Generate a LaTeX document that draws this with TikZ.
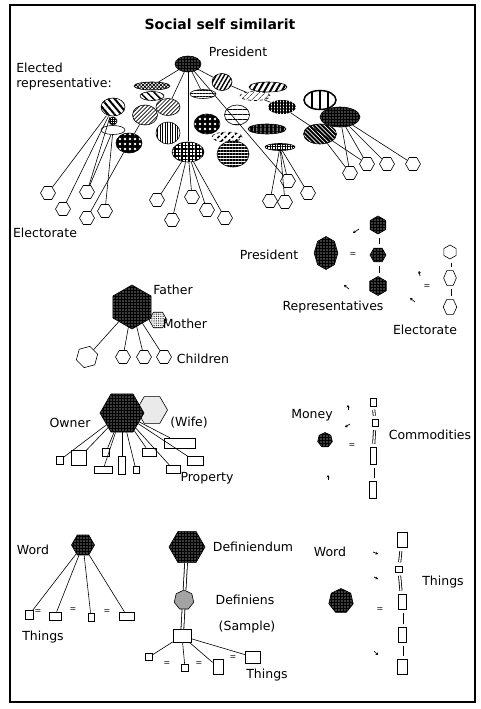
\documentclass[tikz,border=0pt]{standalone}
\usepackage{fontspec}
\setmainfont{DejaVu Sans}
\usetikzlibrary{shapes.geometric,patterns.meta,arrows.meta}

\tikzset{
  lbl/.style={font=\fontsize{12.5}{15}\selectfont, inner sep=0pt},
  eqsign/.style={font=\fontsize{8}{8}\selectfont, inner sep=0pt},
  rep/.style={draw, ellipse, inner sep=0pt, preaction={fill=white}},
  voter/.style={draw, regular polygon, regular polygon sides=6, minimum size=15, inner sep=0pt, fill=white},
  hexa/.style={draw, regular polygon, regular polygon sides=6, inner sep=0pt},
  thing/.style={draw, rectangle, inner sep=0pt, fill=white},
  blackdots/.style={preaction={fill=black}, pattern={Dots[distance=3pt,radius=0.55pt]}, pattern color=white},
  bigdots/.style={preaction={fill=black}, pattern={Dots[distance=5pt,radius=1.4pt]}, pattern color=white},
  lightdots/.style={preaction={fill=white}, pattern={Dots[distance=2pt,radius=0.45pt]}},
  eqlink/.style={double, double distance=1.4pt, line width=0.8pt, shorten <=3.5pt, shorten >=3.5pt},
  deflink/.style={double, double distance=2pt, line width=0.8pt},
  tinyarrow/.style={-{Stealth[length=2.5pt,width=3pt]}, line width=0.7pt},
}

\begin{document}
\begin{tikzpicture}[x=1pt,y=-1pt,line width=0.6pt]
\useasboundingbox (0,0) rectangle (480,709);
\draw[line width=1.3pt] (10,5) rectangle (475,702);

% president and elected representatives
\node[lbl, font=\bfseries\fontsize{14}{16}\selectfont] (title) at (220,24) {Social self similarit};
\node[lbl] (presl) at (238,52) {President};
\node[lbl, align=left, anchor=north west] (elect) at (16,63) {Elected\\representative:};
\node[lbl] (electl) at (45,233) {Electorate};

\node[rep, blackdots, minimum width=26, minimum height=16] (pres) at (188,64) {};
\node[rep, pattern={Hatch[angle=45,distance=2.5pt,line width=0.7pt]}, minimum width=36, minimum height=8] (e1) at (152,86) {};
\node[rep, pattern={Lines[angle=-45,distance=5pt,line width=1.5pt]}, minimum width=24, minimum height=9] (e2) at (152,96) {};
\node[rep, pattern={Lines[angle=60,distance=3.5pt,line width=1.4pt]}, minimum width=20, minimum height=17] (e3) at (222,82) {};
\node[rep, pattern={Lines[angle=0,distance=3pt,line width=1pt]}, minimum width=26, minimum height=9] (e4) at (203,94) {};
\node[rep, dashed, pattern={Lines[angle=45,distance=4pt,line width=0.5pt]}, minimum width=30, minimum height=9] (e6) at (255,96) {};
\node[rep, pattern={Lines[angle=60,distance=5pt,line width=2pt]}, minimum width=38, minimum height=10] (e5) at (268,87) {};
\node[rep, line width=1.5pt, pattern={Lines[angle=90,distance=8pt,line width=2pt]}, minimum width=32, minimum height=19] (e7) at (320,100) {};
\node[rep, pattern={Lines[angle=-50,distance=5pt,line width=2pt]}, minimum width=24, minimum height=18] (e8) at (113,107) {};
\node[rep, pattern={Lines[angle=45,distance=2.8pt,line width=0.7pt]}, minimum width=25, minimum height=20] (e9) at (145,115) {};
\node[rep, pattern={Lines[angle=45,distance=2.8pt,line width=0.7pt]}, minimum width=24, minimum height=17] (e10) at (168,107) {};
\node[rep, pattern={Lines[angle=0,distance=5pt,line width=0.8pt]}, minimum width=25, minimum height=20] (e11) at (237,115) {};
\node[rep, draw=none, pattern={Hatch[angle=0,distance=3pt,line width=1.2pt]}, minimum width=28, minimum height=14] (e12) at (282,107) {};
\node[rep, blackdots, minimum width=40, minimum height=20] (e13) at (340,117) {};
\node[rep, pattern={Hatch[angle=0,distance=2pt,line width=0.6pt]}, minimum width=8, minimum height=8] (e14a) at (113,121) {};
\node[rep, minimum width=24, minimum height=9] (e14) at (113,130) {};
\node[rep, bigdots, minimum width=26, minimum height=20] (e15) at (207,124) {};
\node[rep, pattern={Lines[angle=90,distance=2.5pt,line width=0.9pt]}, minimum width=24, minimum height=22] (e16) at (168,133) {};
\node[rep, preaction={fill=black}, pattern={Lines[angle=90,distance=4pt,line width=0.8pt]}, pattern color=white, minimum width=38, minimum height=10] (e17) at (267,129) {};
\node[rep, preaction={fill=black}, pattern={Lines[angle=-45,distance=3pt,line width=0.7pt]}, pattern color=white, minimum width=33, minimum height=20] (e18) at (320,134) {};
\node[rep, bigdots, minimum width=26, minimum height=20] (e19) at (129,143) {};
\node[rep, dashed, pattern={Lines[angle=45,distance=5pt,line width=1.5pt]}, minimum width=30, minimum height=10] (e20) at (227,137) {};
\node[rep, pattern={Hatch[angle=0,distance=3.5pt,line width=1.2pt]}, minimum width=32, minimum height=20] (e21) at (188,152) {};
\node[rep, pattern={Lines[angle=0,distance=3pt,line width=1.3pt]}, minimum width=32, minimum height=26] (e22) at (233,154) {};
\node[rep, pattern={Hatch[angle=0,distance=2.5pt,line width=0.8pt]}, minimum width=30, minimum height=7] (e23) at (280,147) {};

\node[voter] (h1) at (48,193) {};
\node[voter] (h2) at (63,209) {};
\node[voter] (h3) at (87,192) {};
\node[voter] (h4) at (87,218) {};
\node[voter] (h5) at (105,211) {};
\node[voter] (h6) at (157,200) {};
\node[voter] (h7) at (172,220) {};
\node[voter] (h8) at (192,197) {};
\node[voter] (h9) at (207,210) {};
\node[voter] (h10) at (225,218) {};
\node[voter] (h11) at (270,201) {};
\node[voter] (h12) at (285,202) {};
\node[voter] (h13) at (288,181) {};
\node[voter] (h14) at (308,193) {};
\node[voter] (h15) at (350,173) {};
\node[voter] (h16) at (367,164) {};
\node[voter] (h17) at (387,164) {};
\node[voter] (h18) at (413,164) {};

\draw (pres) -- (e1);
\draw (pres) -- (e10);
\draw (e10) -- (e9);
\draw (e9) -- (e19);
\draw (e19) -- (h4);
\draw (pres) -- (e21);
\draw (pres) -- (e4);
\draw (pres) -- (e3);
\draw (e3) -- (e6);
\draw (e6) -- (e12);
\draw (e12) -- (h16);
\draw (pres) -- (h13);
\draw (e8) -- (h1);
\draw (e8) -- (h2);
\draw (e8) -- (h3);
\draw (e14) -- (h3);
\draw (e14) -- (h5);
\draw (e21) -- (h6);
\draw (e21) -- (h7);
\draw (e21) -- (h8);
\draw (e21) -- (h9);
\draw (e21) -- (h10);
\draw (e23) -- (h11);
\draw (e23) -- (h12);
\draw (e23) -- (h13);
\draw (e23) -- (h14);
\draw (e13) -- (h15);
\draw (e13) -- (h16);
\draw (e13) -- (h17);
\draw (e13) -- (h18);
\draw (e18) -- (h15);

% president = representatives = electorate
\node[lbl] (pres2l) at (269,255) {President};
\node[draw, regular polygon, regular polygon sides=8, shape border rotate=22.5, minimum size=33, xscale=0.72, transform shape, inner sep=0pt, blackdots] (pres2) at (326,253) {};
\node[eqsign] (eqa) at (353,255) {=};
\node[hexa, blackdots, shape border rotate=30, minimum size=18] (r1) at (378,225) {};
\node[hexa, blackdots, minimum size=16] (r2) at (378,255) {};
\node[hexa, blackdots, shape border rotate=30, minimum size=19] (r3) at (378,286) {};
\draw[eqlink] (r1) -- (r2);
\draw[eqlink] (r2) -- (r3);
\node[lbl] (repsl) at (333,307) {Representatives};
\node[eqsign] (eqb) at (427,287) {=};
\node[hexa, fill=white, shape border rotate=30, minimum size=14] (v1) at (450,252) {};
\node[hexa, fill=white, minimum size=17, xscale=0.75, transform shape] (v2) at (450,278) {};
\node[hexa, fill=white, minimum size=17, xscale=0.8, transform shape] (v3) at (450,307) {};
\draw[eqlink] (v1) -- (v2);
\draw[eqlink] (v2) -- (v3);
\node[lbl] (elect2l) at (425,330) {Electorate};
\draw[tinyarrow] (359,229) -- (353,233);
\draw[tinyarrow] (349,289) -- (344,285);
\draw[tinyarrow] (420,276) -- (419,271);
\draw[tinyarrow] (415,302) -- (410,298);

% family
\node[hexa, preaction={fill=white}, pattern={Dots[distance=1.8pt,radius=0.5pt]}, minimum size=18] (mother) at (158,320) {};
\node[hexa, blackdots, shape border rotate=30, minimum size=44] (father) at (132,307) {};
\node[lbl] (fatherl) at (173,290) {Father};
\node[lbl] (motherl) at (185,324) {Mother};
\node[hexa, fill=white, shape border rotate=15, minimum size=22] (c1) at (87,357) {};
\node[hexa, fill=white, minimum size=15] (c2) at (123,357) {};
\node[hexa, fill=white, minimum size=15] (c3) at (144,357) {};
\node[hexa, fill=white, minimum size=15] (c4) at (164,357) {};
\node[lbl] (childl) at (203,359) {Children};
\draw (father) -- (c1);
\draw (father) -- (c2);
\draw (father) -- (c3);
\draw (father) -- (c4);

% owner and property
\node[hexa, lightdots, minimum size=31] (wife) at (152,410) {};
\node[hexa, blackdots, minimum size=44] (owner) at (122,413) {};
\node[lbl] (ownerl) at (70,423) {Owner};
\node[lbl] (wifel) at (189,423) {(Wife)};
\node[thing, minimum width=7, minimum height=8] (p1) at (60,460) {};
\node[thing, minimum width=15, minimum height=15] (p2) at (79,458) {};
\node[thing, minimum width=7, minimum height=8] (p3) at (106,452) {};
\node[thing, minimum width=18, minimum height=7] (p4) at (103,470) {};
\node[thing, minimum width=7, minimum height=18] (p5) at (122,465) {};
\node[thing, minimum width=6, minimum height=7] (p6) at (136,470) {};
\node[thing, minimum width=14, minimum height=8] (p7) at (149,452) {};
\node[thing, minimum width=31, minimum height=10] (p8) at (180,443) {};
\node[thing, minimum width=16, minimum height=9] (p9) at (195,461) {};
\node[thing, minimum width=14, minimum height=8] (p10) at (173,469) {};
\foreach \p in {p1,p2,p3,p4,p5,p6,p7,p8,p9,p10}
  \draw (owner) -- (\p);
\node[lbl] (propl) at (207,478) {Property};

% money and commodities
\node[lbl] (moneyl) at (312,415) {Money};
\node[draw, regular polygon, regular polygon sides=7, minimum size=15, inner sep=0pt, blackdots] (coin) at (325,440) {};
\node[eqsign] (eqc) at (352,446) {=};
\node[thing, minimum width=6, minimum height=8] (m1) at (373,402) {};
\node[thing, minimum width=6, minimum height=7] (m2) at (375,423) {};
\node[thing, minimum width=6, minimum height=17] (m3) at (373,456) {};
\node[thing, minimum width=7, minimum height=17] (m4) at (373,490) {};
\draw[eqlink] (m1) -- (m2);
\draw[eqlink] (m2) -- (m3);
\draw[eqlink] (m3) -- (m4);
\node[lbl] (commodl) at (430,435) {Commodities};
\draw[tinyarrow] (348,410) -- (348,405);
\draw[tinyarrow] (350,424) -- (345,427);
\draw[tinyarrow] (328,480) -- (328,475);

% word and things
\node[lbl] (wordl) at (33,550) {Word};
\node[hexa, blackdots, minimum size=23] (word) at (83,545) {};
\node[thing, minimum width=8, minimum height=9] (t1) at (29,615) {};
\node[thing, minimum width=12, minimum height=8] (t2) at (55,616) {};
\node[thing, minimum width=6, minimum height=8] (t3) at (91,617) {};
\node[thing, minimum width=15, minimum height=8] (t4) at (127,616) {};
\node[eqsign] at (38,612) {=};
\node[eqsign] at (73,610) {=};
\node[eqsign] at (107,612) {=};
\foreach \t in {t1,t2,t3,t4}
  \draw (word) -- (\t);
\node[lbl] (things1) at (43,637) {Things};

% definition by sample
\node[hexa, blackdots, minimum size=36] (defd) at (187,547) {};
\node[lbl] (defdl) at (253,547) {Definiendum};
\node[draw, regular polygon, regular polygon sides=7, minimum size=20, inner sep=0pt, preaction={fill=gray!60}, pattern={Dots[distance=2pt,radius=0.45pt]}] (defs) at (184,600) {};
\node[lbl] (defsl) at (245,600) {Definiens};
\node[lbl] (samplel) at (247,627) {(Sample)};
\node[thing, minimum width=18, minimum height=13] (sample) at (182,636) {};
\draw[deflink] (defd) -- (defs);
\draw[deflink] (defs) -- (sample);
\node[thing, minimum width=7, minimum height=7] (s1) at (149,657) {};
\node[thing, minimum width=7, minimum height=7] (s2) at (185,668) {};
\node[thing, minimum width=10, minimum height=15] (s3) at (218,667) {};
\node[thing, minimum width=15, minimum height=12] (s4) at (253,657) {};
\foreach \s in {s1,s2,s3,s4}
  \draw (sample) -- (\s);
\node[eqsign] at (167,664) {=};
\node[eqsign] at (199,664) {=};
\node[eqsign] at (233,658) {=};
\node[lbl] (things2) at (267,675) {Things};

% word = things
\node[lbl] (word2l) at (330,552) {Word};
\node[draw, regular polygon, regular polygon sides=7, minimum size=25, inner sep=0pt, blackdots] (word2) at (341,601) {};
\node[thing, minimum width=10, minimum height=15] (w1) at (402,540) {};
\node[thing, minimum width=7, minimum height=6] (w2) at (399,569) {};
\node[thing, minimum width=8, minimum height=15] (w3) at (402,602) {};
\node[thing, minimum width=8, minimum height=15] (w4) at (402,635) {};
\node[thing, minimum width=10, minimum height=15] (w5) at (402,667) {};
\draw[eqlink] (w1) -- (w2);
\draw[eqlink] (w2) -- (w3);
\draw[eqlink] (w3) -- (w4);
\draw[eqlink] (w4) -- (w5);
\node[lbl] (things3) at (443,582) {Things};
\node[eqsign] at (380,610) {=};
\draw[tinyarrow] (373,552) -- (378,554);
\draw[tinyarrow] (374,577) -- (378,579);
\draw[tinyarrow] (374,651) -- (378,655);
\end{tikzpicture}
\end{document}
